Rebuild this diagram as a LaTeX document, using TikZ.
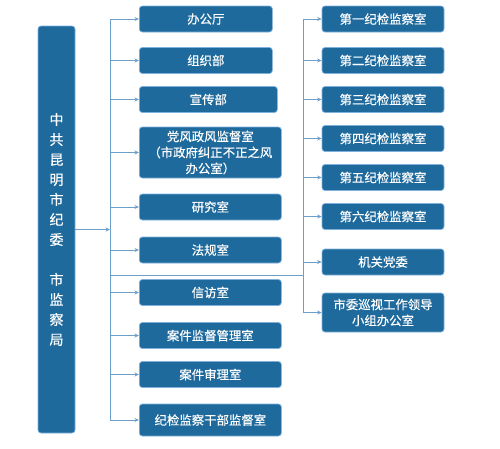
\documentclass[tikz,border=0pt]{standalone}
\usepackage{fontspec}
\newfontfamily\cjk[FakeBold=0.4]{Noto Sans CJK SC}
\usetikzlibrary{arrows.meta}
\definecolor{boxfill}{HTML}{1F6A9C}
\definecolor{boxborder}{HTML}{7FB0DC}
\definecolor{linecol}{HTML}{6E9FCB}
\tikzset{
  box/.style={draw=boxborder, fill=boxfill, rounded corners=3pt, text=white,
    align=center, inner sep=0pt, line width=0.7pt,
    font=\cjk\fontsize{12.4}{16}\selectfont},
  mbox/.style={box, anchor=west, minimum height=26pt},
  rbox/.style={box, minimum width=122pt, minimum height=26pt},
  conn/.style={draw=linecol, line width=0.8pt, -{Stealth[length=4.5pt,width=4pt]}},
  trunk/.style={draw=linecol, line width=0.8pt},
}
\begin{document}
\begin{tikzpicture}[x=1pt,y=-1pt]
\useasboundingbox (0,0) rectangle (500,448);
% left tall box
\node[box, minimum width=37pt, minimum height=407pt,
  font=\cjk\fontsize{14}{20}\selectfont] (L) at (56.5,229.5)
  {中\\共\\昆\\明\\市\\纪\\委\\[20pt]市\\监\\察\\局};
% middle column
\node[mbox, minimum width=133pt] (m1) at (139,19) {办公厅};
\node[mbox, minimum width=133pt] (m2) at (139,60.5) {组织部};
\node[mbox, minimum width=138pt] (m3) at (139,99.5) {宣传部};
\node[mbox, minimum width=142pt, minimum height=51pt,
  font=\cjk\fontsize{12.4}{16}\selectfont] (m4) at (139,152.5)
  {党风政风监督室\\（市政府纠正不正之风\\办公室）};
\node[mbox, minimum width=142pt] (m5) at (139,207) {研究室};
\node[mbox, minimum width=142pt] (m6) at (139,250) {法规室};
\node[mbox, minimum width=142pt] (m7) at (139,292.5) {信访室};
\node[mbox, minimum width=142pt] (m8) at (139,335.5) {案件监督管理室};
\node[mbox, minimum width=142pt] (m9) at (139,374.5) {案件审理室};
\node[mbox, minimum width=142pt, minimum height=32pt] (m10) at (139,420) {纪检监察干部监督室};
% right column
\node[rbox] (r1) at (383,19) {第一纪检监察室};
\node[rbox] (r2) at (383,60.5) {第二纪检监察室};
\node[rbox] (r3) at (383,99.5) {第三纪检监察室};
\node[rbox] (r4) at (383,138.5) {第四纪检监察室};
\node[rbox] (r5) at (383,177.5) {第五纪检监察室};
\node[rbox] (r6) at (383,216.5) {第六纪检监察室};
\node[rbox] (r7) at (383,262) {机关党委};
\node[rbox, minimum height=39pt] (r8) at (383,312.5) {市委巡视工作领导\\小组办公室};
% trunk coordinates
\coordinate (t1) at (110,229.5);
\coordinate (t2) at (303,275);
\coordinate (j) at (110,275);
% trunk lines
\draw[trunk] (m1.west -| t1) -- (m10.west -| t1);
\draw[trunk] (r1.west -| t2) -- (r8.west -| t2);
\draw[trunk] (j) -- (t2);
% from left box
\draw[conn] (L.east |- t1) -- (t1);
% middle arrows
\foreach \n in {m1,m2,m3,m4,m5,m6,m7,m8,m9,m10}
  \draw[conn] (\n.west -| t1) -- (\n.west);
% right arrows
\foreach \n in {r1,r2,r3,r4,r5,r6,r7,r8}
  \draw[conn] (\n.west -| t2) -- (\n.west);
\end{tikzpicture}
\end{document}
